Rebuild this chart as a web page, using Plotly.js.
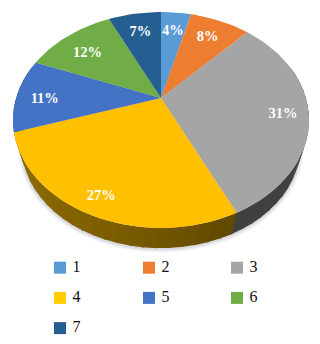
<!DOCTYPE html>
<html><head><meta charset="utf-8">
<script src="https://cdn.plot.ly/plotly-3.0.1.min.js"></script>
<style>html,body{margin:0;padding:0;background:#fff}#c{width:320px;height:344px}</style></head>
<body><div id="c"></div>
<script>
const categories = ['1','2','3','4','5','6','7'];
const shares = [4, 8, 31, 27, 11, 12, 7];
const sliceColors = ['#5B9BD5','#ED7D31','#A5A5A5','#FFC000','#4472C4','#70AD47','#255E91'];
const swatchColors = ['#5B9BD5','#ED7D31','#A5A5A5','#FFCC00','#4472C4','#70AD47','#255E91'];
const wallColors = ['#33587A','#8A481C','#404040','#7A5C00','#27426F','#406429','#153654'];

// perspective projection of the pie disc onto the page
const cx=161, cy=98, A=144.9, B=103.5, K=0.2037, BASE_DROP=28, BASE_SCALE=0.94;
function proj(fr, r, base){
  const t=fr*2*Math.PI, u=r*Math.sin(t), v=-r*Math.cos(t), w=1-K*v;
  const s=base?BASE_SCALE:1, d=base?BASE_DROP:0;
  return [cx+s*A*u/w, cy+d+s*B*v/w];
}
function arc(f0,f1,base){
  const n=Math.max(2,Math.ceil((f1-f0)*200)), out=[];
  for(let i=0;i<=n;i++) out.push(proj(f0+(f1-f0)*i/n,1,base));
  return out;
}
const total=shares.reduce((a,b)=>a+b,0);
let cum=0;
const spans=shares.map(v=>{const s=[cum/total,(cum+v)/total];cum+=v;return s;});
const traces=[];
function poly(pts,color,opacity){
  traces.push({type:'scatter',mode:'lines',x:pts.map(p=>p[0]),y:pts.map(p=>p[1]),fill:'toself',
    fillcolor:color,line:{width:0,color:color},opacity:opacity===undefined?1:opacity,showlegend:false,hoverinfo:'skip'});
}
// lighting of the wall around the rim: brightness against page angle
function wallShade(fr){
  const stops=[[0.43,0.78],[0.55,1.02],[0.65,1.14],[0.70,1.05]];
  if(fr<=stops[0][0]) return stops[0][1];
  for(let i=1;i<stops.length;i++) if(fr<=stops[i][0]){
    const a=stops[i-1],b=stops[i];
    return a[1]+(b[1]-a[1])*(fr-a[0])/(b[0]-a[0]);
  }
  return stops[stops.length-1][1];
}
function shade(hex,f){
  const n=parseInt(hex.slice(1),16);
  const c=[n>>16,(n>>8)&255,n&255].map(x=>Math.min(255,Math.round(x*f)));
  return 'rgb('+c.join(',')+')';
}
// soft ground shadow
[[1.028,0.035],[1.018,0.05],[1.009,0.08]].forEach(([g,o])=>{
  const pts=arc(0,1,true).map(p=>[cx+(p[0]-cx)*g,cy+BASE_DROP+(p[1]-cy-BASE_DROP)*g+1]);
  poly(pts,'#203050',o);
});
// side wall: front half only, back to front
spans.forEach((s,i)=>{
  const f0=Math.max(s[0],0.2), f1=Math.min(s[1],0.8);
  if(f1<=f0) return;
  const n=Math.ceil((f1-f0)*80);
  for(let k=0;k<n;k++){
    const a=f0+(f1-f0)*k/n,b=f0+(f1-f0)*(k+1)/n;
    const col=i===3?shade(wallColors[i],wallShade((a+b)/2)):wallColors[i];
    poly(arc(a,b+0.002,false).concat(arc(a,b+0.002,true).reverse()),col);
  }
});
// top face
spans.forEach((s,i)=>{
  poly([[cx,cy]].concat(arc(s[0],s[1],false)),sliceColors[i]);
});
// percent labels
const labelR=[0.75,0.76,0.83,0.87,0.80,0.73,0.75];
const labelShift=[0,0,0.005,0,-0.008,-0.008,0];
const lab=spans.map((s,i)=>proj((s[0]+s[1])/2+labelShift[i],labelR[i],false));
traces.push({type:'scatter',mode:'text',x:lab.map(p=>p[0]),y:lab.map(p=>p[1]),
  text:shares.map(v=>v+'%'),textposition:'middle center',
  textfont:{family:'Liberation Serif',size:14.5,color:'#fff',weight:700},showlegend:false,hoverinfo:'skip'});
// key
categories.forEach((c,i)=>{
  const col=i%3,row=Math.floor(i/3);
  traces.push({type:'scatter',mode:'markers+text',x:[60+[0,89,177][col]],y:[267.7+row*30.2],text:[' '+c],
    textposition:'middle right',cliponaxis:false,
    marker:{symbol:'square',size:12,color:swatchColors[i]},
    textfont:{family:'Liberation Serif',size:16,color:'#111'},showlegend:false,hoverinfo:'skip'});
});
Plotly.newPlot('c',traces,{
  width:320,height:344,margin:{l:0,r:0,t:0,b:0},paper_bgcolor:'#fff',plot_bgcolor:'#fff',showlegend:false,
  xaxis:{range:[0,320],visible:false,fixedrange:true},
  yaxis:{range:[344,0],visible:false,fixedrange:true}
},{displayModeBar:false,staticPlot:true});
</script></body></html>
